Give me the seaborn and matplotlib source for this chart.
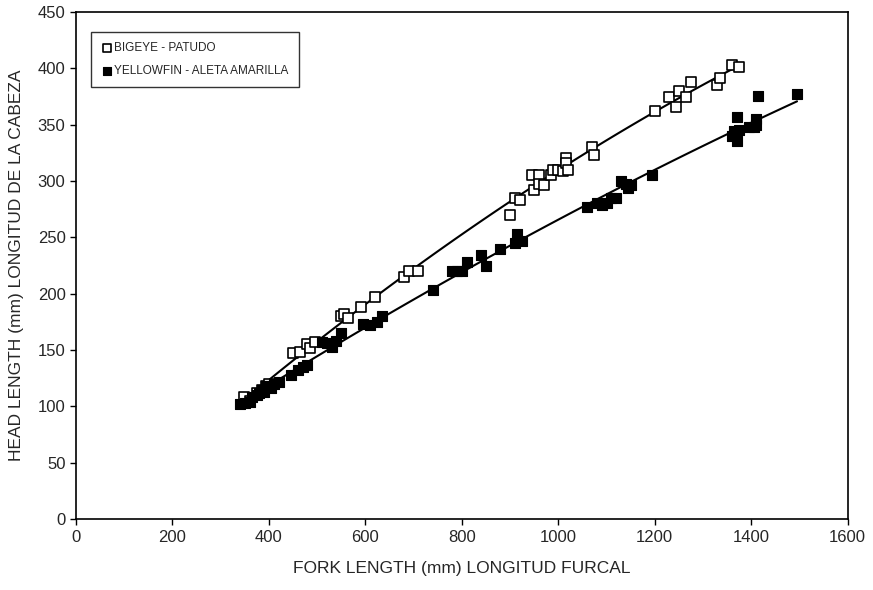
import numpy as np
import pandas as pd
import matplotlib
matplotlib.use("Agg")
import matplotlib.pyplot as plt
import seaborn as sns

# Bigeye - Patudo (open squares)
bigeye_fl = [348, 360, 375, 385, 395, 400, 450, 465, 480, 485, 495, 550, 555, 565, 590,
             620, 680, 690, 710, 900, 910, 920, 945, 950, 960, 960, 970, 985, 990, 1000,
             1010, 1015, 1015, 1020, 1070, 1075, 1200, 1230, 1245, 1250, 1265, 1275, 1330,
             1335, 1360, 1375]
bigeye_hl = [108, 105, 112, 115, 118, 120, 147, 148, 155, 152, 157, 180, 182, 178, 188,
             197, 215, 220, 220, 270, 285, 283, 305, 292, 305, 297, 296, 305, 310, 310,
             309, 320, 316, 310, 330, 323, 362, 374, 366, 380, 374, 388, 385,
             391, 403, 401]

# Yellowfin - Aleta amarilla (filled squares)
yellow_fl = [340, 350, 360, 365, 375, 380, 385, 390, 395, 400, 405, 410, 420, 445, 460,
             470, 480, 510, 520, 530, 540, 550, 595, 610, 625, 635, 740, 780, 790, 800,
             810, 840, 850, 880, 910, 915, 925, 1060, 1080, 1090, 1100, 1110, 1120, 1130,
             1140, 1145, 1150, 1195, 1360, 1365, 1370, 1370, 1375, 1395, 1405, 1410, 1410,
             1415, 1495]
yellow_hl = [102, 103, 104, 108, 110, 112, 115, 113, 118, 118, 116, 120, 122, 128, 132,
             135, 137, 157, 156, 153, 158, 165, 173, 172, 175, 180, 203, 220, 220, 220,
             228, 234, 225, 240, 245, 253, 247, 277, 280, 279, 280, 285, 285, 300,
             297, 294, 296, 305, 340, 344, 357, 335, 345, 348, 348, 355, 350,
             375, 377]

species = ["BIGEYE - PATUDO", "YELLOWFIN - ALETA AMARILLA"]
x_ticks = [0, 200, 400, 600, 800, 1000, 1200, 1400, 1600]
y_ticks = [0, 50, 100, 150, 200, 250, 300, 350, 400, 450]

df = pd.concat([
    pd.DataFrame({"fl": bigeye_fl, "hl": bigeye_hl, "sp": species[0]}),
    pd.DataFrame({"fl": yellow_fl, "hl": yellow_hl, "sp": species[1]}),
])

sns.set_style("white")
plt.rcParams["font.family"] = ["Liberation Sans", "DejaVu Sans"]

fig = plt.figure(figsize=(8.73, 5.90), dpi=100)
ax = fig.add_axes([0.087, 0.120, 0.884, 0.860])

# fitted curves (second-order polynomial through each species' points)
for sp in species:
    d = df[df.sp == sp]
    coef = np.polyfit(d.fl, d.hl, 2)
    xs = np.linspace(d.fl.min(), d.fl.max(), 100)
    sns.lineplot(x=xs, y=np.polyval(coef, xs), ax=ax, color="black", lw=1.5, legend=False)

sns.scatterplot(data=df[df.sp == species[0]], x="fl", y="hl", ax=ax, marker="s",
                s=46, facecolor="white", edgecolor="black", linewidth=1.2,
                label=species[0], zorder=3)
sns.scatterplot(data=df[df.sp == species[1]], x="fl", y="hl", ax=ax, marker="s",
                s=46, color="black", edgecolor="black", linewidth=0.8,
                label=species[1], zorder=3)

ax.set_xlim(0, 1600)
ax.set_ylim(0, 450)
ax.set_xticks(x_ticks)
ax.set_yticks(y_ticks)
ax.tick_params(labelsize=12, direction="out", length=4, width=1, color="black",
               bottom=True, left=True)
ax.set_xlabel("FORK LENGTH (mm) LONGITUD FURCAL", fontsize=12.5, labelpad=12)
ax.set_ylabel("HEAD LENGTH (mm) LONGITUD DE LA CABEZA", fontsize=12.5, labelpad=10)
for s in ax.spines.values():
    s.set_color("black")
    s.set_linewidth(1.2)

leg = ax.legend(loc="upper left", bbox_to_anchor=(0.012, 0.972), fontsize=8.5,
                frameon=True, fancybox=False, edgecolor="black", handletextpad=0.1,
                handlelength=1.0, labelspacing=0.95, borderpad=0.85, markerscale=0.9)
leg.get_frame().set_linewidth(1.0)

fig.savefig("out.png", dpi=100)
